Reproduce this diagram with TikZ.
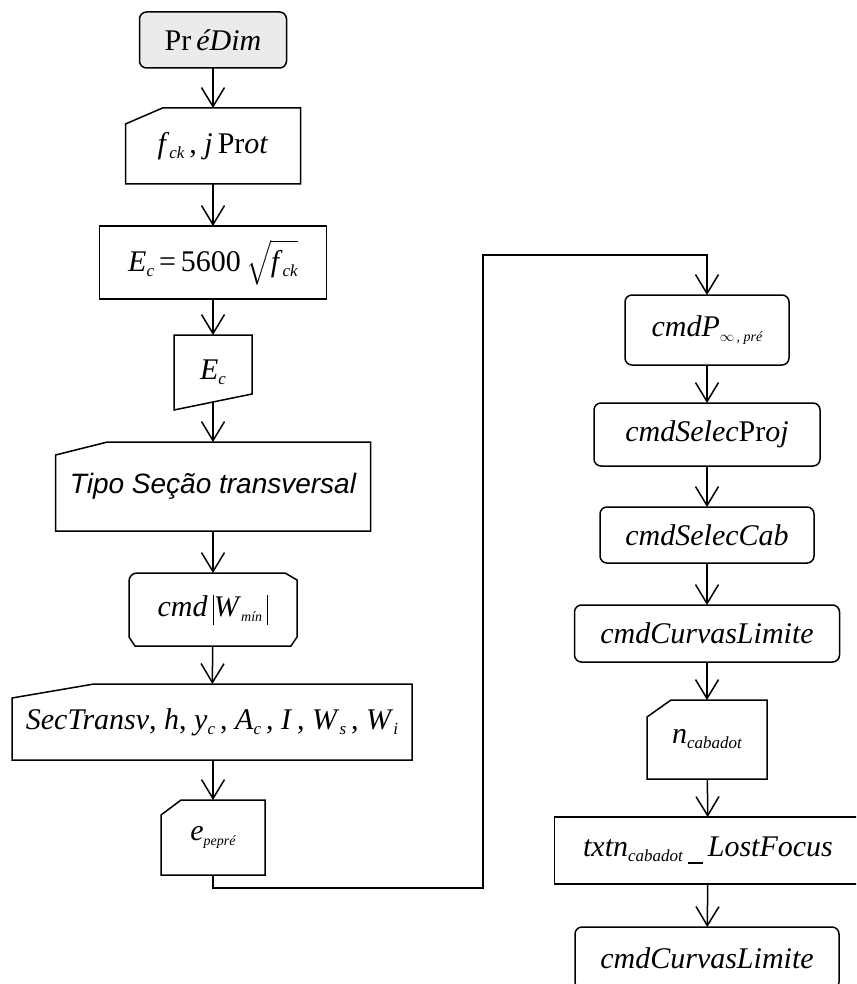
\documentclass[tikz,border=0pt]{standalone}
\usepackage{exscale}
\usepackage{fontspec}
\setmainfont{Liberation Serif}
\newfontfamily\arialfont{Liberation Sans}
\usetikzlibrary{arrows.meta,calc}

\newcommand{\sbs}[1]{\raisebox{-5pt}{\fontsize{17}{17}\selectfont\itshape #1}}
\newcommand{\sbt}[1]{\raisebox{-5pt}{\fontsize{14}{14}\selectfont\itshape #1}}
\newcommand{\barra}{\rule[-8pt]{1.3pt}{30pt}}
\newcommand{\maninput}[3]{\draw ($(#1.north west)+(0,#3)$) -- ($(#1.north west)+(#2,0)$) -- (#1.north east) -- (#1.south east) -- (#1.south west) -- cycle;}

\tikzset{
  base/.style={inner sep=0pt, outer sep=0pt, font=\fontsize{30}{35}\selectfont},
  rbox/.style={base, draw, rounded corners=7pt},
  sbox/.style={base, draw},
  ibox/.style={base},
  arr/.style={-{Straight Barb[length=19pt,width=23pt]}}
}

\begin{document}
\begin{tikzpicture}[x=1pt,y=-1pt,line width=1.5pt]
        \useasboundingbox (0,0) rectangle (856,984);
        \clip (0,0) rectangle (856,984);
        % left column
        \node[rbox,fill=black!8,minimum width=147,minimum height=56] (pre) at (213,40) {Pr\,\textit{éDim}};
        \node[ibox,minimum width=175,minimum height=76] (fck) at (213,146) {\raisebox{-6pt}{\textit{f}\sbs{ck}\,, \textit{j}\,Pr\textit{ot}}};
        \maninput{fck}{37}{16}
        \node[sbox,minimum width=227,minimum height=73] (ecf) at (213,262.5) {\textit{E}\sbs{c}\,=\,5600\,$\sqrt{\mbox{\rule[-9pt]{0pt}{33pt}\textit{f}\sbs{ck}}}$};
        \node[ibox,minimum width=78,minimum height=75] (ec) at (213,372.5) {\textit{E}\sbs{c}};
        \draw (ec.north west) -- (ec.north east) -- ($(ec.south east)+(0,-16)$) -- (ec.south west) -- cycle;
        \node[ibox,minimum width=315,minimum height=89] (tipo) at (213,486.5) {\fontsize{28}{33}\selectfont\arialfont\itshape Tipo Seção transversal};
        \maninput{tipo}{52}{13}
        \node[ibox,minimum width=168,minimum height=73] (wmin) at (213,609.5) {\textit{cmd}\,\barra\textit{W}\sbt{mín}\,\barra};
        \draw ($(wmin.south west)+(0,-9)$) -- ($(wmin.north west)+(0,8)$) arc[start angle=180,end angle=90,radius=8pt]
          -- ($(wmin.north east)+(-12,0)$) -- ($(wmin.north east)+(0,7)$) -- ($(wmin.south east)+(0,-9)$)
          -- ($(wmin.south east)+(-6,0)$) -- ($(wmin.south west)+(6,0)$) -- cycle;
        \node[ibox,minimum width=400,minimum height=76] (sec) at (212,722) {\raisebox{6pt}{\textit{SecTransv}, \textit{h}, \textit{y}\sbs{c}\,, \textit{A}\sbs{c}\,, \textit{I}\,, \textit{W}\sbs{s}\,, \textit{W}\sbs{i}}};
        \maninput{sec}{82}{14}
        \node[ibox,minimum width=104,minimum height=75] (epp) at (213,837.5) {\raisebox{-10pt}{\textit{e}\sbt{pepré}}};
        \maninput{epp}{20}{15}
        % right column
        \node[rbox,minimum width=164,minimum height=70] (cmdp) at (707,330) {\textit{cmdP}\sbt{$\infty$\,, pré}};
        \node[rbox,minimum width=226,minimum height=63] (proj) at (707,434.5) {\textit{cmdSelec}Pr\textit{oj}};
        \node[rbox,minimum width=214,minimum height=56] (cab) at (707,535) {\textit{cmdSelecCab}};
        \node[rbox,minimum width=265,minimum height=57] (curv) at (707,633.5) {\textit{cmdCurvasLimite}};
        \node[ibox,minimum width=120,minimum height=79] (ncab) at (707,739.5) {\raisebox{-12pt}{\textit{n}\sbs{cabadot}}};
        \maninput{ncab}{24}{17}
        \node[sbox,minimum width=307,minimum height=67] (txtn) at (708,850.5) {\textit{txtn}\sbs{cabadot}\,\rule[-7pt]{15pt}{1.5pt}\,\textit{LostFocus}};
        \node[rbox,minimum width=264,minimum height=62] (curv2) at (707,958) {\textit{cmdCurvasLimite}};
        % connectors
        \draw[arr] (pre) -- (fck);
        \draw[arr] (fck) -- (ecf);
        \draw[arr] (ecf) -- (ec);
        \draw[arr] ($(ec.south)+(0,-8)$) -- (tipo.north);
        \draw[arr] (tipo) -- (wmin);
        \draw[arr] (wmin) -- (sec);
        \draw[arr] (sec.south -| epp.north) -- (epp.north);
        \coordinate (c1) at (483,888);
        \coordinate (c2) at (483,255);
        \draw[arr] (epp.south) |- (c1) -- (c2) -| (cmdp.north);
        \draw[arr] (cmdp) -- (proj);
        \draw[arr] (proj) -- (cab);
        \draw[arr] (cab) -- (curv);
        \draw[arr] (curv) -- (ncab);
        \draw[arr] (ncab) -- (txtn);
        \draw[arr] (txtn) -- (curv2);
      \end{tikzpicture}
\end{document}
